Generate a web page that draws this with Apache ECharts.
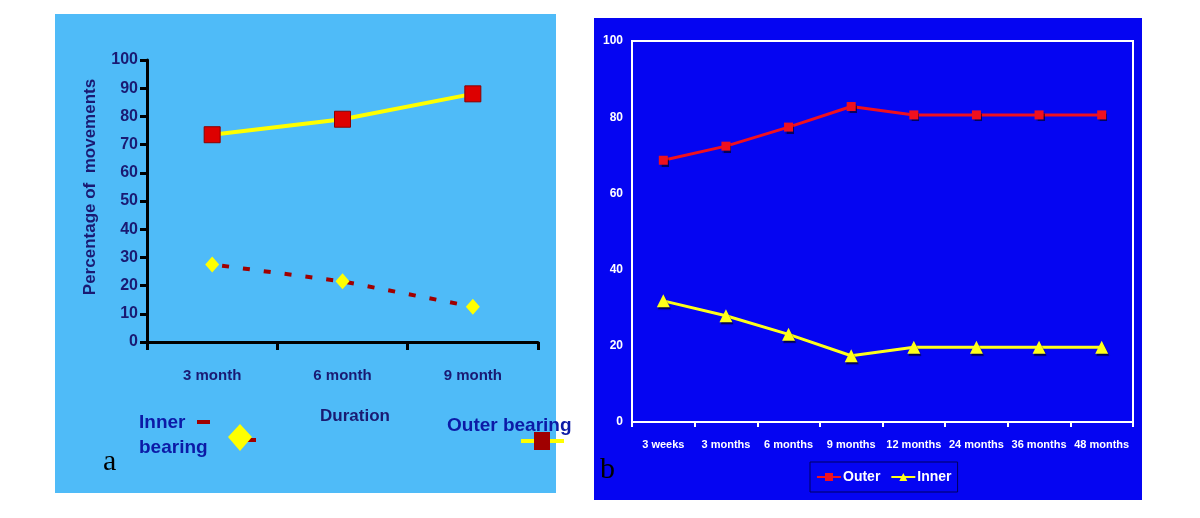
<!DOCTYPE html>
<html>
<head>
<meta charset="utf-8">
<script src="https://cdn.jsdelivr.net/npm/echarts@6/dist/echarts.min.js"></script>
<style>
html,body{margin:0;padding:0;background:#ffffff;}
#c{width:1200px;height:518px;}
</style>
</head>
<body>
<div id="c"></div>
<script>
// ---- Panel a data ----
const catsA = ['3 month', '6 month', '9 month'];
const outerA = [73.5, 79, 88];
const innerA = [27.5, 21.5, 12.5];
const ticksA = { min: 0, max: 100, interval: 10 };

// ---- Panel b data ----
const catsB = ['3 weeks', '3 months', '6 months', '9 months', '12 months', '24 months', '36 months', '48 months'];
const outerB = [68.7, 72.4, 77.4, 82.8, 80.6, 80.6, 80.6, 80.6];
const innerB = [31.8, 27.9, 23.0, 17.4, 19.6, 19.6, 19.6, 19.6];
const ticksB = { min: 0, max: 100, interval: 20 };

const navy = '#1a1a72';
const legBlue = '#0c1aa6';
const fontA = '"Liberation Sans", Arial, sans-serif';
const fontB = '"Liberation Sans", Arial, sans-serif';

const chart = echarts.init(document.getElementById('c'), null, { renderer: 'canvas' });

const option = {
  animation: false,
  backgroundColor: '#ffffff',
  graphic: [
    // panel backgrounds
    { type: 'rect', z: -100, shape: { x: 55, y: 14, width: 501, height: 479 }, style: { fill: '#4fbbf8' } },
    { type: 'rect', z: -100, shape: { x: 594, y: 18, width: 548, height: 482 }, style: { fill: '#0505f2' } },
    // panel a: y-axis title
    { type: 'text', z: 10, x: 90, y: 187, rotation: Math.PI / 2,
      style: { text: 'Percentage of  movements', font: 'bold 17px ' + fontA, fill: navy, align: 'center', verticalAlign: 'middle' } },
    // panel a: x-axis title
    { type: 'text', z: 10, x: 355, y: 416,
      style: { text: 'Duration', font: 'bold 17px ' + fontA, fill: navy, align: 'center', verticalAlign: 'middle' } },
    // panel a: legend texts
    { type: 'text', z: 10, x: 139, y: 423,
      style: { text: 'Inner', font: 'bold 19px ' + fontA, fill: legBlue, align: 'left', verticalAlign: 'middle' } },
    { type: 'text', z: 10, x: 139, y: 448,
      style: { text: 'bearing', font: 'bold 19px ' + fontA, fill: legBlue, align: 'left', verticalAlign: 'middle' } },
    { type: 'text', z: 10, x: 447, y: 426,
      style: { text: 'Outer bearing', font: 'bold 19px ' + fontA, fill: legBlue, align: 'left', verticalAlign: 'middle' } },
    // panel a: legend symbols
    { type: 'rect', z: 10, shape: { x: 197, y: 420, width: 13, height: 4 }, style: { fill: '#a00000' } },
    { type: 'rect', z: 10, shape: { x: 247, y: 438, width: 9, height: 4 }, style: { fill: '#a00000' } },
    { type: 'polygon', z: 11, shape: { points: [[240, 424], [252, 437], [240, 451], [228, 437]] }, style: { fill: '#ffff00' } },
    { type: 'rect', z: 10, shape: { x: 521, y: 439, width: 43, height: 4 }, style: { fill: '#ffff00' } },
    { type: 'rect', z: 11, shape: { x: 534, y: 432, width: 16, height: 18 }, style: { fill: '#a00000' } },
    // panel labels
    { type: 'text', z: 10, x: 103, y: 462,
      style: { text: 'a', font: '30px "Liberation Serif", "Times New Roman", serif', fill: '#000000', align: 'left', verticalAlign: 'middle' } },
    { type: 'text', z: 10, x: 600, y: 470,
      style: { text: 'b', font: '30px "Liberation Serif", "Times New Roman", serif', fill: '#000000', align: 'left', verticalAlign: 'middle' } }
  ],
  legend: [{
    show: true,
    orient: 'horizontal',
    left: 810, top: 462,
    padding: [8, 6, 8, 6],
    backgroundColor: '#0505f2',
    borderColor: '#000060',
    borderWidth: 1,
    itemGap: 10,
    itemWidth: 24,
    itemHeight: 10,
    data: ['Outer', 'Inner'],
    textStyle: { color: '#ffffff', fontFamily: fontB, fontWeight: 'bold', fontSize: 14, padding: [0, 0, 0, -3] }
  }],
  grid: [
    { left: 147, right: 662, top: 60, bottom: 176, containLabel: false },
    { left: 632, right: 67, top: 41, bottom: 96, containLabel: false, show: true, borderColor: '#ffffff', borderWidth: 2, backgroundColor: 'transparent' }
  ],
  xAxis: [
    {
      gridIndex: 0, type: 'category', data: catsA, boundaryGap: true,
      axisLine: { show: true, lineStyle: { color: '#000000', width: 3 } },
      axisTick: { show: true, length: 8, lineStyle: { color: '#000000', width: 3 } },
      axisLabel: { color: navy, fontFamily: fontA, fontWeight: 'bold', fontSize: 15, margin: 26 },
      splitLine: { show: false }
    },
    {
      gridIndex: 1, type: 'category', data: catsB, boundaryGap: true,
      axisLine: { show: true, lineStyle: { color: '#ffffff', width: 2 } },
      axisTick: { show: true, length: 5, lineStyle: { color: '#ffffff', width: 2 } },
      axisLabel: { color: '#ffffff', fontFamily: fontB, fontWeight: 'bold', fontSize: 11, margin: 17, interval: 0 },
      splitLine: { show: false }
    }
  ],
  yAxis: [
    {
      gridIndex: 0, type: 'value', min: ticksA.min, max: ticksA.max, interval: ticksA.interval,
      axisLine: { show: true, lineStyle: { color: '#000000', width: 3 } },
      axisTick: { show: true, length: 7, lineStyle: { color: '#000000', width: 3 } },
      axisLabel: { color: navy, fontFamily: fontA, fontWeight: 'bold', fontSize: 16, margin: 9 },
      splitLine: { show: false }
    },
    {
      gridIndex: 1, type: 'value', min: ticksB.min, max: ticksB.max, interval: ticksB.interval,
      axisLine: { show: true, lineStyle: { color: '#ffffff', width: 2 } },
      axisTick: { show: false },
      axisLabel: { color: '#ffffff', fontFamily: fontB, fontWeight: 'bold', fontSize: 12, margin: 9 },
      splitLine: { show: false }
    }
  ],
  series: [
    {
      name: 'Outer bearing', type: 'line', xAxisIndex: 0, yAxisIndex: 0, data: outerA,
      symbol: 'rect', symbolSize: 16,
      lineStyle: { color: '#ffff00', width: 4 },
      itemStyle: { color: '#dd0000', borderColor: '#8a0000', borderWidth: 1 },
      z: 3
    },
    {
      name: 'Inner bearing', type: 'line', xAxisIndex: 0, yAxisIndex: 0, data: innerA,
      symbol: 'diamond', symbolSize: [14, 16],
      lineStyle: { color: '#a00000', width: 4, type: [7, 14], dashOffset: -10 },
      itemStyle: { color: '#ffff00' },
      z: 3
    },
    {
      name: 'Outer', type: 'line', xAxisIndex: 1, yAxisIndex: 1, data: outerB,
      symbol: 'rect', symbolSize: 9,
      lineStyle: { color: '#f0101e', width: 3 },
      itemStyle: { color: '#f0101e', shadowColor: 'rgba(0,0,0,0.6)', shadowOffsetX: 1, shadowOffsetY: 2, shadowBlur: 1 },
      z: 3
    },
    {
      name: 'Inner', type: 'line', xAxisIndex: 1, yAxisIndex: 1, data: innerB,
      symbol: 'triangle', symbolSize: 13,
      lineStyle: { color: '#ffff1a', width: 3 },
      itemStyle: { color: '#ffff1a', shadowColor: 'rgba(0,0,0,0.7)', shadowOffsetX: 1, shadowOffsetY: 2, shadowBlur: 1 },
      z: 3
    }
  ]
};
chart.setOption(option);
</script>
</body>
</html>
